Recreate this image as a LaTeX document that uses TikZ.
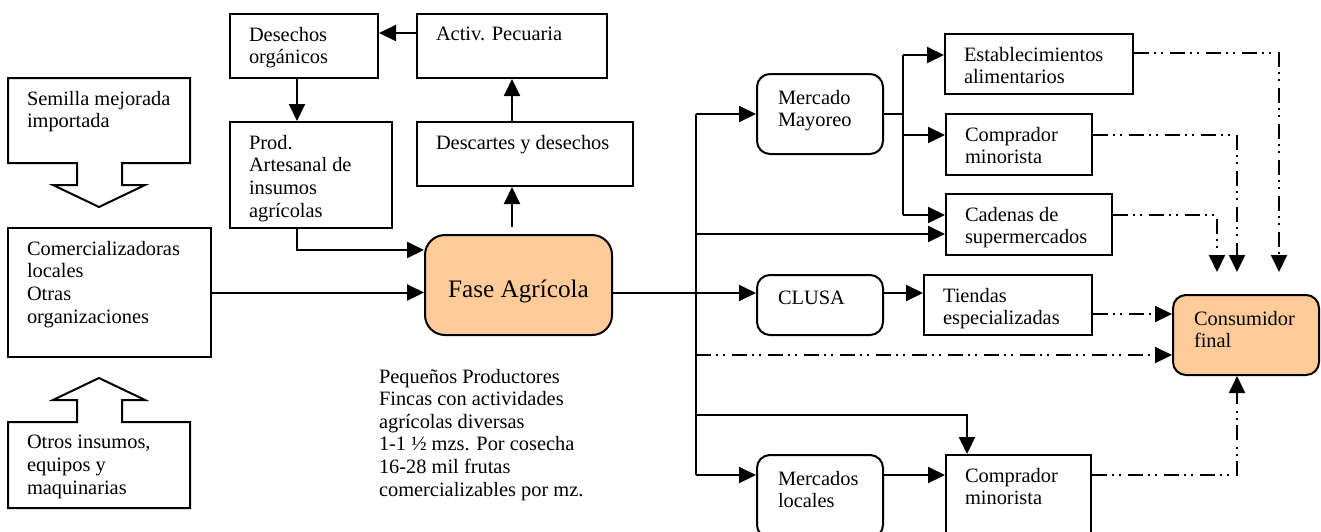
\documentclass[tikz,border=0pt]{standalone}
\usepackage{fontspec}
\setmainfont{Liberation Serif}
\usetikzlibrary{arrows.meta,fit}
\definecolor{fasefill}{HTML}{FFCC99}
\begin{document}
\begin{tikzpicture}[x=0.5pt,y=-0.5pt,
  line width=1pt,
  font=\fontsize{10.2}{11.4}\selectfont,
  arr/.style={-{Triangle[length=8.5pt,width=8pt]}},
  dd/.style={dash pattern=on 7.5pt off 2.5pt on 1pt off 2.5pt on 1pt off 3.5pt},
  box/.style={draw, inner sep=0pt},
  rbox/.style={box, rounded corners=6.5pt},
  area/.style={inner sep=0pt},
  txtbase/.style={anchor=north west, inner sep=0pt, align=left},
  txt/.style={txtbase, xshift=9.5pt, yshift=-6.5pt},
  rtxt/.style={txtbase, xshift=10.5pt, yshift=-8pt},
]
\useasboundingbox (0,0) rectangle (1321,531);
\clip (0,0) rectangle (1321,531);

% ---- inputs on the left: boxes with block arrows ----
\draw (8,78) -- (190,78) -- (190,163) -- (122,163) -- (122,185) -- (145,185)
  -- (99,207) -- (53,185) -- (77,185) -- (77,163) -- (8,163) -- cycle;
\node[area, fit={(8,78)(190,163)}, label={[txt]north west:{Semilla mejorada\\importada}}] (semilla) {};

\node[box, fit={(8,228)(211,357)},
  label={[txt]north west:{Comercializadoras\\locales\\Otras\\organizaciones}}] (comer) {};

\draw (8,508) -- (190,508) -- (190,422) -- (122,422) -- (122,400) -- (145,400)
  -- (99,378) -- (53,400) -- (77,400) -- (77,422) -- (8,422) -- cycle;
\node[area, fit={(8,422)(190,508)}, label={[txt]north west:{Otros insumos,\\equipos y\\maquinarias}}] (otros) {};

% ---- production block ----
\node[box, fit={(230,14)(378,78)}, label={[txt]north west:{Desechos\\orgánicos}}] (desechos) {};
\node[box, fit={(417,14)(607,78)}, label={[txt]north west:{Activ. Pecuaria}}] (actpec) {};
\node[box, fit={(417,122)(633,186)}, label={[txt]north west:{Descartes y desechos}}] (descartes) {};
\node[box, fit={(230,122)(392,228)}, label={[txt]north west:{Prod.\\Artesanal de\\insumos\\agrícolas}}] (prod) {};
\node[box, fill=fasefill, rounded corners=10pt, fit={(425,235)(612,335)},
  label={[font=\fontsize{12.6}{14}\selectfont, yshift=-3pt]center:Fase Agrícola}] (fase) {};

\node[anchor=north west, inner sep=0pt, align=left, font=\fontsize{10.2}{11.3}\selectfont]
  (nota) at (378,368) {Pequeños Productores\\Fincas con actividades\\agrícolas diversas\\1-1 ½ mzs. Por cosecha\\16-28 mil frutas\\comercializables por mz.};

% ---- marketing channels ----
\node[rbox, fit={(757,74)(883,154)}, label={[rtxt]north west:{Mercado\\Mayoreo}}] (mayoreo) {};
\node[rbox, fit={(757,275)(883,335)}, label={[rtxt]north west:{CLUSA}}] (clusa) {};
\node[rbox, fit={(757,455)(883,538)}, label={[rtxt]north west:{Mercados\\locales}}] (mercados) {};

\node[box, fit={(945,34)(1133,94)}, label={[txt]north west:{Establecimientos\\alimentarios}}] (est) {};
\node[box, fit={(946,114)(1092,175)}, label={[txt]north west:{Comprador\\minorista}}] (comprador1) {};
\node[box, fit={(946,194)(1112,255)}, label={[txt]north west:{Cadenas de\\supermercados}}] (cadenas) {};
\node[box, fit={(924,275)(1092,335)}, label={[txt]north west:{Tiendas\\especializadas}}] (tiendas) {};
\node[box, fit={(946,455)(1091,545)}, label={[txt]north west:{Comprador\\minorista}}] (comprador2) {};
\node[rbox, fill=fasefill, fit={(1173,295)(1319,375)}, label={[rtxt]north west:{Consumidor\\final}}] (consumidor) {};

% ---- connectors: production block ----
\draw[arr] ([yshift=6.5pt]actpec.west) -- ([yshift=6.5pt]desechos.east);
\draw[arr] ([xshift=-3.5pt]desechos.south) -- ([xshift=-3.5pt]desechos.south |- prod.north);
\draw[arr] ([yshift=3.5pt]fase.north -| actpec.south) -- (descartes.south -| actpec.south);
\draw[arr] (descartes.north -| actpec.south) -- (actpec.south);
\draw[arr] ([xshift=-7pt]prod.south) |- ([yshift=17.5pt]fase.west);
\draw[arr] (comer.east) -- (comer.east -| fase.west);

% ---- connectors: distribution trunk ----
\coordinate (tA) at (696,114);
\coordinate (tB) at (696,234);
\coordinate (tC) at (696,355);
\coordinate (tD) at (696,415);
\coordinate (tE) at (696,475);
\coordinate (k)  at (967,415);
\draw[arr] ([yshift=-4pt]fase.east) -- ([yshift=-4pt]fase.east -| clusa.west);
\draw (tA) -- (tE);
\draw[arr] (tA) -- (tA -| mayoreo.west);
\draw[arr] (tB) -- (tB -| cadenas.west);
\draw[arr, dd] (tC) -- (tC -| consumidor.west);
\draw[arr] (tD) -- (k) -- (k |- comprador2.north);
\draw[arr] (tE) -- (tE -| mercados.west);

% ---- wholesale market branches ----
\coordinate (m1) at (903,55);
\coordinate (m2) at (903,135);
\coordinate (m3) at (903,215);
\draw (mayoreo.east) -- (mayoreo.east -| m1);
\draw (m1) -- (m3);
\draw[arr] (m1) -- (m1 -| est.west);
\draw[arr] (m2) -- (m2 -| comprador1.west);
\draw[arr] (m3) -- (m3 -| cadenas.west);

\draw[arr] ([yshift=6pt]clusa.east) -- ([yshift=6pt]clusa.east -| tiendas.west);
\draw[arr] (tE -| mercados.east) -- (tE -| comprador2.west);

% ---- flows to the final consumer ----
\coordinate (dT) at ([yshift=11pt]consumidor.north);
\coordinate (d1) at (1279,53);
\coordinate (d2) at (1237,135);
\coordinate (d3) at (1217,215);
\coordinate (d4) at (1237,475);
\coordinate (d5) at (1100,314);
\draw[arr, dd] (est.east |- d1) -- (d1) -- (d1 |- dT);
\draw[arr, dd] (comprador1.east |- d2) -- (d2) -- (d2 |- dT);
\draw[arr, dd] (cadenas.east |- d3) -- (d3) -- (d3 |- dT);
\draw[arr, dd] (tiendas.east |- d5) -- (d5 -| consumidor.west);
\draw[arr, dd] (comprador2.east |- d4) -- (d4) -- (d4 |- consumidor.south);
\end{tikzpicture}
\end{document}
